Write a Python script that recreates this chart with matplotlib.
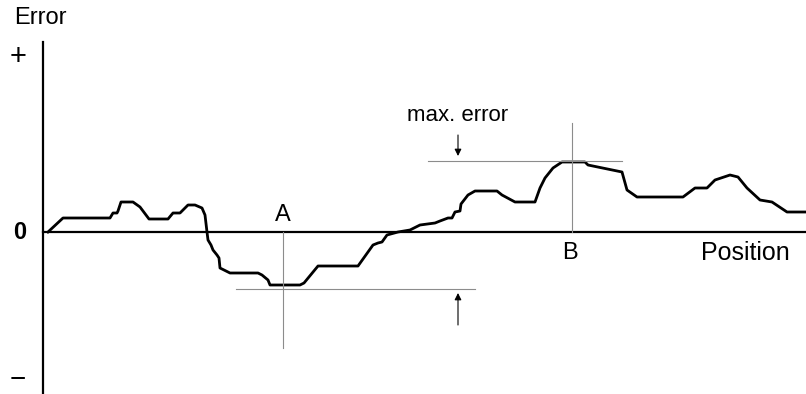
import matplotlib.pyplot as plt

# error curve (position, error) in px from the origin
pos = [5, 20, 67, 70, 74, 75, 78, 90, 97, 106,
       125, 130, 137, 145, 152, 159, 162, 164, 165, 168,
       170, 174, 176, 177, 183, 187, 215, 219, 225, 227,
       257, 261, 275, 315, 330, 335, 339, 344, 355, 367,
       377, 392, 397, 405, 409, 412, 417, 418, 425, 432,
       454, 459, 472, 492, 497, 502, 510, 519, 542, 545,
       579, 584, 594, 640, 652, 664, 672, 687, 695, 704,
       717, 729, 744, 763]
err = [0, 14, 14, 19, 19, 21, 30, 30, 25, 13,
       13, 19, 19, 27, 27, 24, 17, 0, -8, -13,
       -18, -23, -26, -36, -39, -41, -41, -43, -48, -53,
       -53, -51, -34, -34, -13, -11, -10, -3, 0, 2,
       7, 9, 11, 14, 14, 20, 21, 28, 37, 41,
       41, 37, 30, 30, 44, 54, 64, 70, 70, 67,
       60, 42, 35, 35, 44, 44, 52, 57, 55, 44,
       32, 30, 20, 20]

a_pos, a_err = 240, -53
b_pos, b_err = 529, 70

plt.rcParams['font.family'] = ['Liberation Sans', 'DejaVu Sans']
fig = plt.figure(figsize=(8.06, 3.94), dpi=100)
ax = fig.add_axes([0, 0, 1, 1])
ax.set_xlim(-43, 763)
ax.set_ylim(-162, 232)
ax.axis('off')

# axes
ax.plot([0, 0], [-161, 190], color='black', lw=1.6)
ax.plot([0, 763], [0, 0], color='black', lw=1.6)

# curve
ax.plot(pos, err, color='black', lw=2.0, solid_joinstyle='round')

# reference lines
gray = '#8c8c8c'
ax.plot([a_pos, a_pos], [0, -116], color=gray, lw=0.8)
ax.plot([193, 432], [a_err - 4, a_err - 4], color=gray, lw=0.8)
ax.plot([b_pos, b_pos], [0, 109], color=gray, lw=0.8)
ax.plot([385, 579], [b_err + 1, b_err + 1], color=gray, lw=0.8)

# arrows
arr = dict(arrowstyle='-|>', color='black', lw=0.8, mutation_scale=10, shrinkA=0, shrinkB=0)
ax.annotate('', xy=(415, -61), xytext=(415, -93), arrowprops=arr)
ax.annotate('', xy=(415, 76), xytext=(415, 97), arrowprops=arr)

# labels
ax.text(-29, 214, 'Error', fontsize=17, ha='left', va='center')
ax.text(-25, 175, '+', fontsize=21, ha='center', va='center')
ax.text(-23, 0, '0', fontsize=17, fontweight='bold', ha='center', va='center')
ax.text(-25, -148, '\u2212', fontsize=20, ha='center', va='center')
ax.text(a_pos, 17, 'A', fontsize=17, ha='center', va='center')
ax.text(b_pos - 2, -21, 'B', fontsize=17, ha='center', va='center')
ax.text(747, -21, 'Position', fontsize=18, ha='right', va='center')
ax.text(415, 117, 'max. error', fontsize=16, ha='center', va='center')

fig.savefig('out.png', dpi=100)
